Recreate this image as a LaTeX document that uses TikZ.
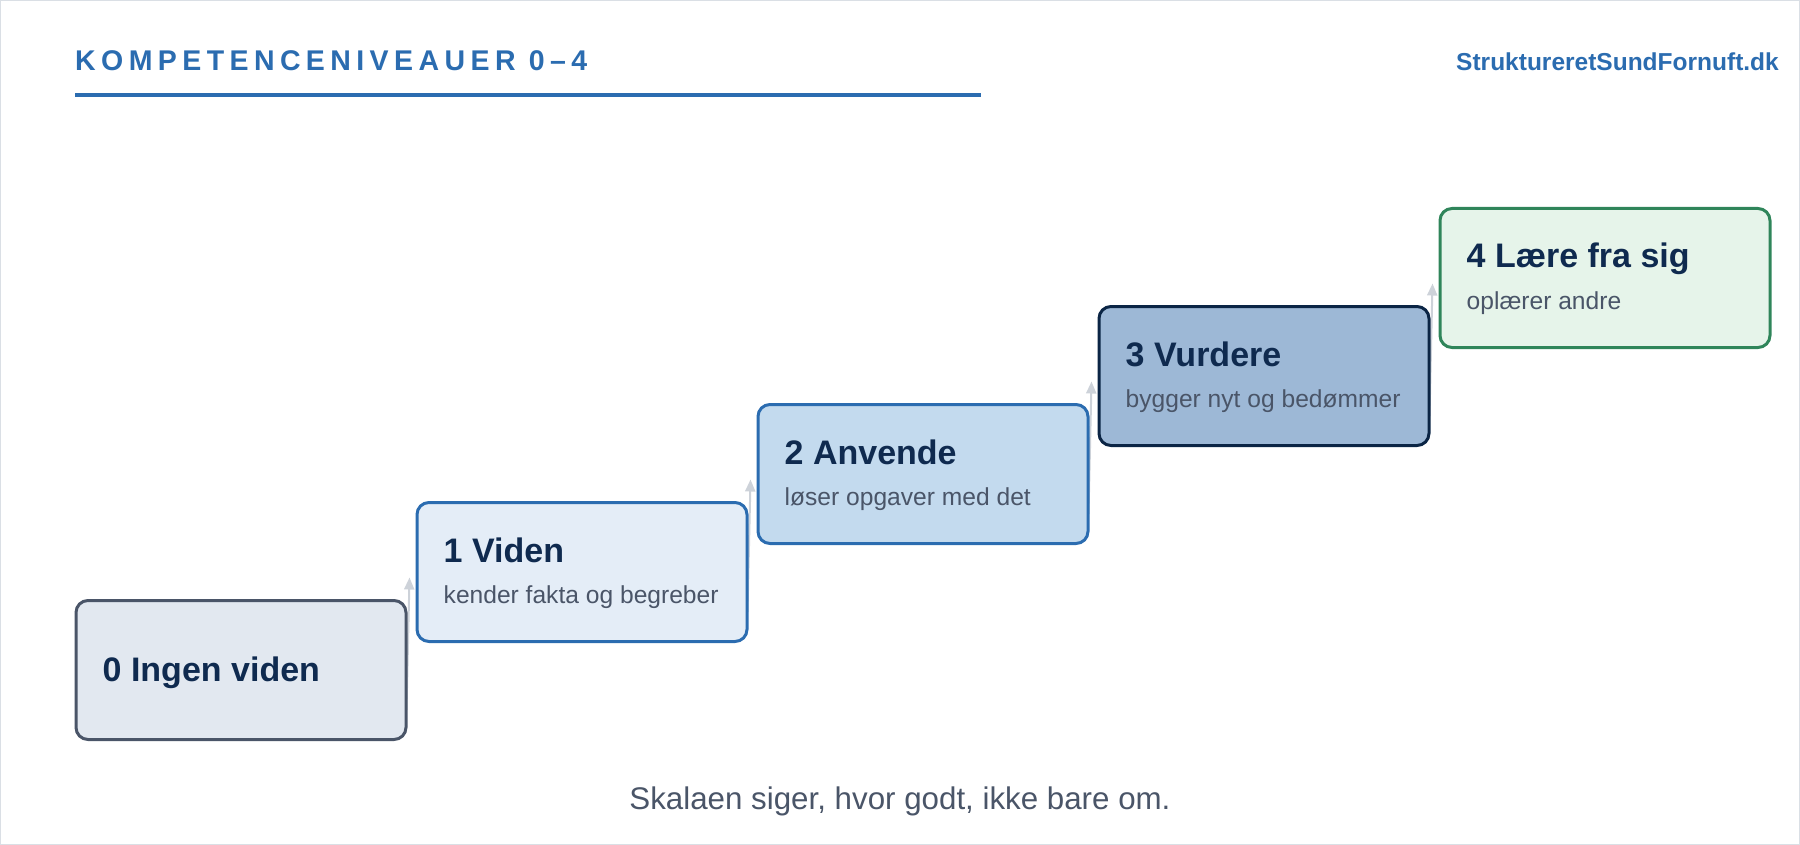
\documentclass[tikz,border=0pt]{standalone}
\usepackage{fontspec}
\setmainfont{Liberation Sans}
\usetikzlibrary{arrows.meta}
\definecolor{titleblue}{HTML}{2B6CB0}
\definecolor{navy}{HTML}{0F2A4F}
\definecolor{subgray}{HTML}{4A5568}
\definecolor{framegray}{HTML}{DADFE5}
\definecolor{arrowgray}{HTML}{CDD2D9}
\definecolor{fill0}{HTML}{E2E8F0}\definecolor{line0}{HTML}{4A5568}
\definecolor{fill1}{HTML}{E4EDF7}\definecolor{line1}{HTML}{2B6CB0}
\definecolor{fill2}{HTML}{C3DAEE}\definecolor{line2}{HTML}{2B6CB0}
\definecolor{fill3}{HTML}{9DB8D6}\definecolor{line3}{HTML}{0B2545}
\definecolor{fill4}{HTML}{E6F4EA}\definecolor{line4}{HTML}{2F855A}
\tikzset{
  lvlbox/.style={draw, line width=3pt, rounded corners=12pt, minimum width=330pt, minimum height=139pt, inner sep=0pt},
  lvltitle/.style={anchor=base west, inner sep=0pt, text=navy, font=\fontsize{34}{40}\selectfont\bfseries},
  lvlsub/.style={anchor=base west, inner sep=0pt, text=subgray, font=\fontsize{24.6}{29}\selectfont},
  stepconn/.style={draw=arrowgray, line width=2pt, -{Triangle[length=12pt,width=10pt]}},
}
\begin{document}
\begin{tikzpicture}[x=1pt,y=-1pt]
\useasboundingbox (0,0) rectangle (1800,845);
\draw[framegray, line width=1pt] (0.5,0.5) rectangle (1799.5,844.5);
% header
\node[anchor=base west, inner sep=0pt, text=titleblue, font=\fontsize{28.5}{34}\selectfont\bfseries\addfontfeatures{LetterSpace=19}] (title) at (75,70.7) {KOMPETENCENIVEAUER 0–4};
\coordinate (ulA) at (75,95.5);
\coordinate (ulB) at (981,95.5);
\draw[titleblue, line width=4pt] (ulA) -- (ulB);
\node[anchor=base east, inner sep=0pt, text=titleblue, font=\fontsize{24.5}{29}\selectfont\bfseries] (site) at (1779,70.7) {StruktureretSundFornuft.dk};
% box centres
\coordinate (c0) at (241,670);
\coordinate (c1) at (582,572);
\coordinate (c2) at (923,474);
\coordinate (c3) at (1264,376);
\coordinate (c4) at (1605,278);
\node[lvlbox, draw=none, fill=none] (g0) at (c0) {};
\node[lvlbox, draw=none, fill=none] (g1) at (c1) {};
\node[lvlbox, draw=none, fill=none] (g2) at (c2) {};
\node[lvlbox, draw=none, fill=none] (g3) at (c3) {};
\node[lvlbox, draw=none, fill=none] (g4) at (c4) {};
% connectors (behind boxes)
\draw[stepconn] ([xshift=-1pt,yshift=-40pt]g0.east) -- ([xshift=-6pt,yshift=-5.5pt]g1.west);
\draw[stepconn] ([xshift=-1pt,yshift=-40pt]g1.east) -- ([xshift=-6pt,yshift=-5.5pt]g2.west);
\draw[stepconn] ([xshift=-1pt,yshift=-40pt]g2.east) -- ([xshift=-6pt,yshift=-5.5pt]g3.west);
\draw[stepconn] ([xshift=-1pt,yshift=-40pt]g3.east) -- ([xshift=-6pt,yshift=-5.5pt]g4.west);
% boxes
\node[lvlbox, draw=line0, fill=fill0] (b0) at (c0) {};
\node[lvlbox, draw=line1, fill=fill1] (b1) at (c1) {};
\node[lvlbox, draw=line2, fill=fill2] (b2) at (c2) {};
\node[lvlbox, draw=line3, fill=fill3] (b3) at (c3) {};
\node[lvlbox, draw=line4, fill=fill4] (b4) at (c4) {};
% texts
\node[lvltitle] (t0) at ([xshift=28pt,yshift=-11.5pt]b0.west) {0 Ingen viden};
\node[lvltitle] (t1) at ([xshift=28pt,yshift=-61pt]b1.north west) {1 Viden};
\node[lvlsub]   (s1) at ([xshift=28pt,yshift=-102pt]b1.north west) {kender fakta og begreber};
\node[lvltitle] (t2) at ([xshift=28pt,yshift=-61pt]b2.north west) {2 Anvende};
\node[lvlsub]   (s2) at ([xshift=28pt,yshift=-102pt]b2.north west) {løser opgaver med det};
\node[lvltitle] (t3) at ([xshift=28pt,yshift=-61pt]b3.north west) {3 Vurdere};
\node[lvlsub]   (s3) at ([xshift=28pt,yshift=-102pt]b3.north west) {bygger nyt og bedømmer};
\node[lvltitle] (t4) at ([xshift=28pt,yshift=-61pt]b4.north west) {4 Lære fra sig};
\node[lvlsub]   (s4) at ([xshift=28pt,yshift=-102pt]b4.north west) {oplærer andre};
% footer
\node[anchor=base, inner sep=0pt, text=subgray, font=\fontsize{31.3}{37}\selectfont] (foot) at (900,809) {Skalaen siger, hvor godt, ikke bare om.};
\end{tikzpicture}
\end{document}
